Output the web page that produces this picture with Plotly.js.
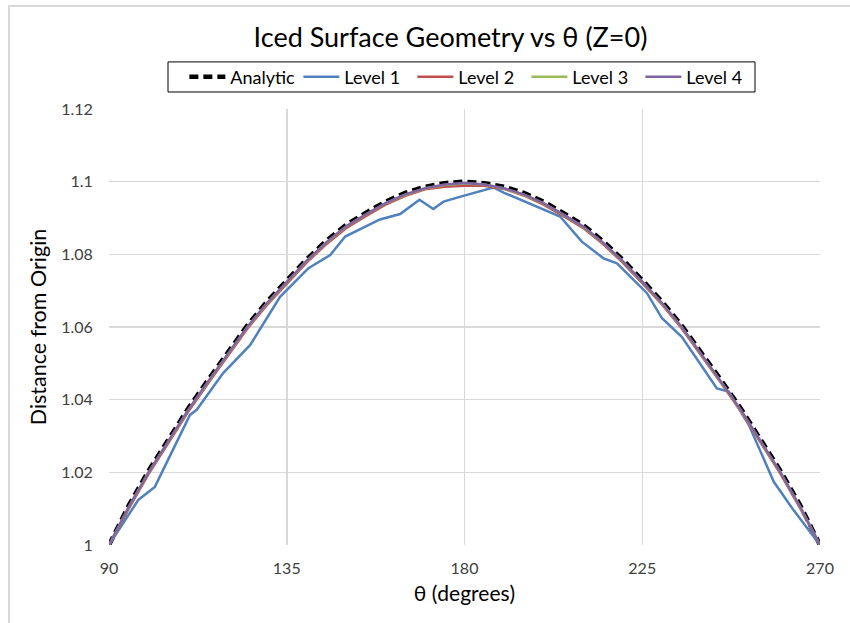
<!DOCTYPE html>
<html>
<head>
<meta charset="utf-8">
<script src="https://cdn.plot.ly/plotly-3.0.1.min.js"></script>
<style>
html,body{margin:0;padding:0;background:#fff;}
#wrap{position:relative;width:850px;height:623px;overflow:hidden;}
#chart{width:850px;height:623px;}
#frame{position:absolute;left:8px;top:5px;width:900px;height:700px;border-left:2px solid #d9d9d9;border-top:2px solid #d9d9d9;pointer-events:none;}
</style>
</head>
<body>
<div id="wrap"><div id="chart"></div><div id="frame"></div></div>
<script>
// Angles (degrees) and values
const thetaStd = [90,95,100,105,110,115,120,125,130,135,140,145,150,155,160,165,170,175,180,
                  185,190,195,200,205,210,215,220,225,230,235,240,245,250,255,260,265,270];
const analytic = [1.0000,1.0109,1.0204,1.0289,1.0375,1.0453,1.0530,1.0604,1.0670,1.0729,1.0786,1.0837,1.0881,1.0914,1.0945,1.0969,1.0986,1.0996,1.1000,
                  1.0996,1.0986,1.0969,1.0945,1.0914,1.0881,1.0837,1.0786,1.0729,1.0670,1.0604,1.0530,1.0453,1.0375,1.0289,1.0204,1.0109,1.0000];
const level2 = [1.0000,1.0100,1.0195,1.0280,1.0366,1.0444,1.0521,1.0595,1.0661,1.0720,1.0777,1.0828,1.0872,1.0905,1.0937,1.0961,1.0979,1.0986,1.0989,
                1.0989,1.0980,1.0962,1.0937,1.0906,1.0873,1.0829,1.0778,1.0721,1.0662,1.0596,1.0522,1.0445,1.0367,1.0281,1.0196,1.0101,1.0000];
const level3 = [1.0000,1.0104,1.0199,1.0284,1.0370,1.0448,1.0525,1.0599,1.0665,1.0724,1.0781,1.0832,1.0876,1.0909,1.0940,1.0964,1.0981,1.0991,1.0995,
                1.0992,1.0981,1.0964,1.0940,1.0909,1.0876,1.0832,1.0781,1.0724,1.0665,1.0599,1.0525,1.0448,1.0370,1.0284,1.0199,1.0104,1.0000];
const level4 = [1.0000,1.0105,1.0200,1.0285,1.0371,1.0449,1.0526,1.0600,1.0666,1.0725,1.0782,1.0833,1.0877,1.0910,1.0941,1.0965,1.0982,1.0992,1.0996,
                1.0992,1.0982,1.0965,1.0941,1.0910,1.0877,1.0833,1.0782,1.0725,1.0666,1.0600,1.0526,1.0449,1.0371,1.0285,1.0200,1.0105,1.0000];
const thetaL1 = [90,97.4,101.6,110.5,112.2,118.9,125.7,133.3,140.5,146,149.8,158.6,163.7,168.6,172.1,174.7,179.7,187.3,189.9,196.6,
                 204.2,209.7,215.2,218.6,226.2,230,235,243.9,246.9,252,258.3,263.3,270];
const level1 = [1.0000,1.0124,1.0160,1.0358,1.0372,1.0473,1.0550,1.0683,1.0762,1.0798,1.0849,1.0896,1.0911,1.0950,1.0925,1.0945,1.0961,1.0984,1.0970,1.0940,
                1.0904,1.0835,1.0789,1.0775,1.0693,1.0624,1.0573,1.0431,1.0422,1.0330,1.0174,1.0096,1.0000];
const names = ['Analytic','Level 1','Level 2','Level 3','Level 4'];
const xTicks = [90,135,180,225,270];

const FONT = 'Lato, "Open Sans", sans-serif';
const traces = [
  {x: thetaStd, y: analytic, name: names[0], mode: 'lines', line: {color: '#000000', width: 4.5, dash: '9px,5px'}},
  {x: thetaL1, y: level1, name: names[1], mode: 'lines', line: {color: '#4F81BD', width: 2.5}},
  {x: thetaStd, y: level2, name: names[2], mode: 'lines', line: {color: '#C0504D', width: 2.5}},
  {x: thetaStd, y: level3, name: names[3], mode: 'lines', line: {color: '#9BBB59', width: 2.5}},
  {x: thetaStd, y: level4, name: names[4], mode: 'lines', line: {color: '#8064A2', width: 2.5}}
];
const layout = {
  width: 850, height: 623,
  margin: {l: 109, r: 30, t: 109, b: 78},
  paper_bgcolor: '#ffffff', plot_bgcolor: '#ffffff',
  font: {family: FONT, color: '#404040'},
  title: {text: 'Iced Surface Geometry vs θ (Z=0)', x: 0.53, xref: 'container', xanchor: 'center', y: 0.94, yref: 'container', yanchor: 'middle',
          font: {family: FONT, size: 27, color: '#000000'}},
  showlegend: true,
  legend: {orientation: 'h', x: 0.106, xanchor: 'left', y: 1.0734, yanchor: 'middle',
           bgcolor: 'rgba(0,0,0,0)', borderwidth: 0,
           font: {family: FONT, size: 18, color: '#000000'}, itemwidth: 36,
           entrywidth: 63, entrywidthmode: 'pixels', traceorder: 'normal'},
  shapes: [{type: 'rect', xref: 'paper', yref: 'paper', x0: 0.083, x1: 0.9086, y0: 1.039, y1: 1.108,
            line: {color: '#000000', width: 1}, fillcolor: '#ffffff', layer: 'above'}],
  xaxis: {range: [90, 270], tickvals: xTicks, ticktext: xTicks.map(String), showgrid: true, gridcolor: '#d9d9d9', gridwidth: 1.5,
          zeroline: false, showline: false, ticks: 'outside', ticklen: 9, tickcolor: 'rgba(0,0,0,0)',
          tickfont: {family: FONT, size: 16, color: '#404040'},
          title: {text: 'θ (degrees)', font: {family: FONT, size: 21, color: '#000000'}, standoff: 10}},
  yaxis: {range: [1, 1.12], dtick: 0.02, tick0: 1, showgrid: true, gridcolor: '#d9d9d9', gridwidth: 1.5,
          zeroline: false, showline: false, ticks: 'outside', ticklen: 12, tickcolor: 'rgba(0,0,0,0)',
          tickfont: {family: FONT, size: 16, color: '#404040'},
          title: {text: 'Distance from Origin', font: {family: FONT, size: 21.5, color: '#000000'}, standoff: 8}}
};
Plotly.newPlot('chart', traces, layout, {displayModeBar: false, staticPlot: true});
</script>
</body>
</html>
